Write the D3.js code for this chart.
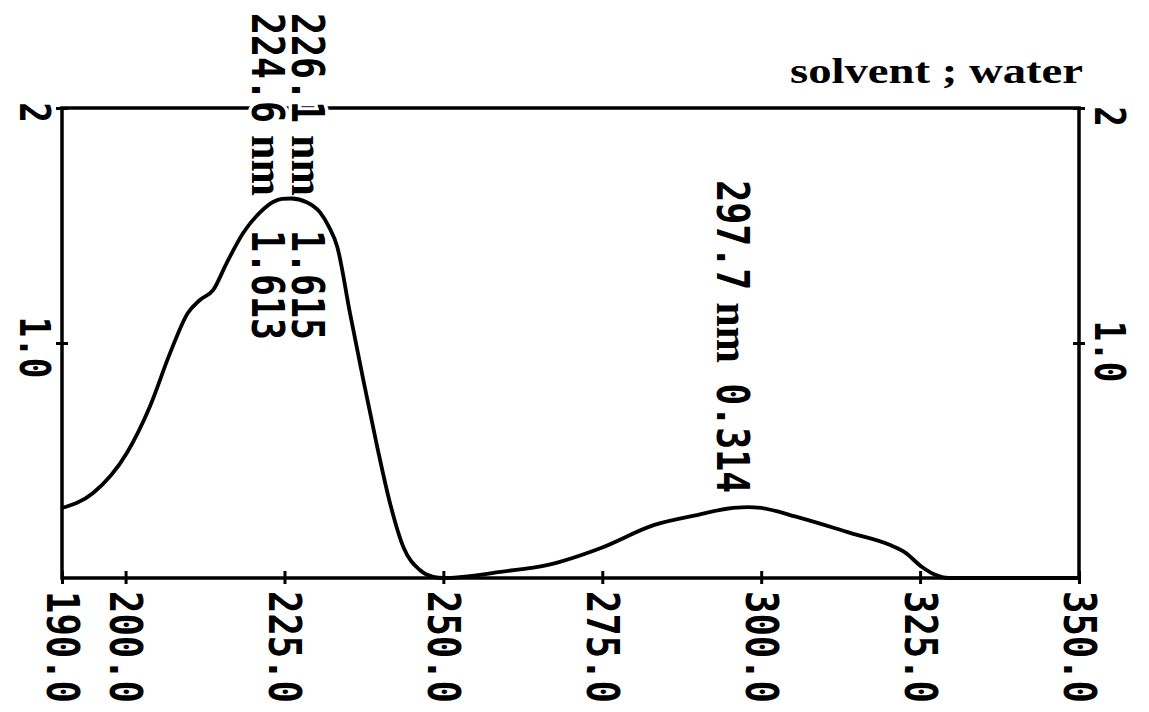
<!DOCTYPE html>
<html lang="en">
<head>
<meta charset="utf-8">
<title>UV spectrum</title>
<script src="https://d3js.org/d3.v7.js"></script>
<style>
  body { margin: 0; background: #fff; }
  text { fill: #000; }
  .num { font-family: "DejaVu Sans Mono", monospace; font-weight: bold; }
  .ser { font-family: "Liberation Serif", serif; font-weight: bold; }
  .halo { stroke: #fff; stroke-width: 7px; paint-order: stroke; stroke-linejoin: round; }
</style>
</head>
<body>
<script>
var w = 1149;
var h = 712;

// spectrum
var wavelength = [190, 194.9, 200.2, 203.8, 207, 209.8, 211.7, 213.8, 215.9, 218.5, 221.2, 223.2,
  224.6, 226.1, 228.5, 230.6, 232, 233.3, 235.3, 237.4, 239.6, 241.6, 243.7, 246.3, 248.4, 250,
  253, 259, 266.3, 274.8, 283.2, 289.9, 295.6, 298, 300, 305.6, 314.1, 320.3, 322.5, 325.3,
  327.2, 329.5, 335, 350];
var absorbance = [0.298, 0.362, 0.532, 0.728, 0.957, 1.128, 1.183, 1.226, 1.34, 1.468, 1.557, 1.60,
  1.613, 1.615, 1.599, 1.556, 1.494, 1.41, 1.128, 0.843, 0.557, 0.319, 0.132, 0.034, 0.005, 0,
  0.005, 0.026, 0.055, 0.128, 0.226, 0.268, 0.298, 0.302, 0.298, 0.26, 0.191, 0.14, 0.111, 0.047,
  0.016, 0, 0, 0];

// peak picks printed on the chart
var peakNm = [224.6, 226.1, 297.7];
var peakAbs = [1.613, 1.615, 0.314];

var xTicks = [190, 200, 225, 250, 275, 300, 325, 350];
var yTicks = [1.0, 2];
var yTickLabels = ["1.0", "2"];
var solventNote = "solvent ; water";

var x = d3.scaleLinear().domain([190, 350]).range([62, 1079]);
var y = d3.scaleLinear().domain([0, 2]).range([578, 108]);

var svg = d3.select("body").append("svg")
  .attr("width", w)
  .attr("height", h);

// squeeze a rotated text (reading downwards) to a given run length
function squeeze(sel, len, tx, ty) {
  sel.each(function () {
    var k = len / this.getComputedTextLength();
    d3.select(this).attr("transform",
      "translate(" + tx + "," + ty + ") rotate(90) scale(" + k + ",1)");
  });
}

// rotated word starting at (bx, sy)
function word(str, cls, fs, bx, sy, len) {
  var t = svg.append("text").attr("class", cls).attr("font-size", fs).text(str);
  squeeze(t, len, bx, sy);
  return t;
}

// frame
svg.append("rect")
  .attr("x", x(190)).attr("y", y(2))
  .attr("width", x(350) - x(190)).attr("height", y(0) - y(2))
  .attr("fill", "none").attr("stroke", "#000").attr("stroke-width", 3.5);

// x axis
var xAxis = d3.axisBottom(x).tickValues(xTicks).tickSize(6).tickFormat(d3.format(".1f"));
var gx = svg.append("g").attr("transform", "translate(0," + y(0) + ")").call(xAxis);
gx.select(".domain").remove();
gx.selectAll(".tick line").attr("y1", -7).attr("y2", 6).attr("stroke-width", 3);
gx.selectAll(".tick text")
  .attr("class", "num")
  .attr("font-size", 45)
  .attr("x", 0).attr("y", 0).attr("dy", 0)
  .attr("text-anchor", "start")
  .call(squeeze, 112, -16, 13);

// left and right y axes
function yLabels(g, bx, shift) {
  g.selectAll(".domain").remove();
  g.selectAll(".tick line").attr("x1", -6).attr("x2", 6).attr("stroke-width", 3);
  g.selectAll(".tick text")
    .attr("class", "num")
    .attr("font-size", 43)
    .attr("x", 0).attr("y", 0).attr("dy", 0)
    .attr("text-anchor", "middle")
    .each(function (d, i) {
      squeeze(d3.select(this), yTickLabels[i].length * 20.5, bx, shift);
    });
}
var yFmt = function (d) { return yTickLabels[yTicks.indexOf(d)]; };
var gyl = svg.append("g").attr("transform", "translate(" + x(190) + ",0)")
  .call(d3.axisLeft(y).tickValues(yTicks).tickFormat(yFmt));
yLabels(gyl, -42, 4);
var gyr = svg.append("g").attr("transform", "translate(" + x(350) + ",0)")
  .call(d3.axisRight(y).tickValues(yTicks).tickFormat(yFmt));
yLabels(gyr, 16, 8);

// spectrum trace
var pts = wavelength.map(function (d, i) { return [d, absorbance[i]]; });
var line = d3.line()
  .x(function (d) { return x(d[0]); })
  .y(function (d) { return y(d[1]); })
  .curve(d3.curveMonotoneX);
svg.append("path")
  .datum(pts)
  .attr("d", line)
  .attr("fill", "none")
  .attr("stroke", "#000")
  .attr("stroke-width", 3.8)
  .attr("stroke-linejoin", "round");

// peak labels, rotated, reading downwards; they knock out the frame line
var numLen = 110, nmLen = 61, gap1 = 12;
peakNm.forEach(function (nm, i) {
  var colX = x(nm) - 30;
  if (i > 0 && nm - peakNm[i - 1] < 5) colX = x(peakNm[i - 1]) - 30 + 40;
  var gap2 = 20;
  var total = numLen + gap1 + nmLen + gap2 + numLen;
  var start = y(peakAbs[i]) - 11 - total;
  if (start < 13) { start = 13; gap2 = 34; }
  word(nm.toFixed(1), "num halo", 44, colX, start, numLen);
  var s2 = start + numLen + gap1;
  word("nm", "ser", 47, colX, s2, nmLen);
  var s3 = s2 + nmLen + gap2;
  word(peakAbs[i].toFixed(3), "num", 44, colX, s3, numLen);
});

svg.append("text")
  .attr("class", "ser")
  .attr("font-size", 35)
  .attr("x", 1083).attr("y", 83)
  .attr("text-anchor", "end")
  .attr("textLength", 293)
  .attr("lengthAdjust", "spacingAndGlyphs")
  .text(solventNote);
</script>
</body>
</html>
